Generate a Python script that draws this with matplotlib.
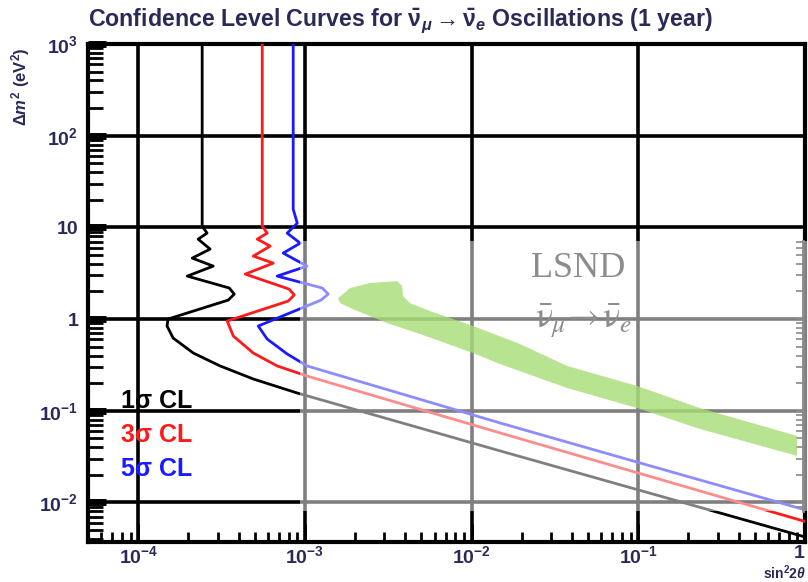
import matplotlib
matplotlib.use("Agg")
import matplotlib.pyplot as plt
from matplotlib.patches import Polygon
from matplotlib.ticker import (LogLocator, FixedLocator, FixedFormatter,
                               NullFormatter, NullLocator)

plt.rcParams["font.family"] = ["Liberation Sans", "DejaVu Sans"]
plt.rcParams["mathtext.fontset"] = "custom"
plt.rcParams["mathtext.rm"] = "Liberation Sans:bold"
plt.rcParams["mathtext.it"] = "Liberation Sans:bold:italic"
plt.rcParams["mathtext.bf"] = "Liberation Sans:bold"

# ---- sensitivity contours (sin^2 2theta, delta m^2 in eV^2) ----
cl1_sin2 = [2.42e-4, 2.42e-4, 2.59e-4, 2.29e-4, 2.70e-4, 2.11e-4, 2.82e-4, 1.97e-4,
            3.52e-4, 3.77e-4, 3.47e-4, 1.51e-4, 1.49e-4, 1.62e-4, 2.14e-4, 3.10e-4,
            4.90e-4, 9.0e-4, 1.48e-2, 1.0]
cl1_dm2 = [1000, 10.3, 8.65, 7.44, 5.79, 4.62, 3.78, 2.94,
           2.18, 1.87, 1.61, 1.0, 0.839, 0.621, 0.426, 0.308,
           0.222, 0.156, 0.0365, 0.0042]

cl3_sin2 = [5.55e-4, 5.55e-4, 5.94e-4, 5.18e-4, 6.19e-4, 4.90e-4, 6.46e-4, 4.39e-4,
            8.05e-4, 8.63e-4, 7.94e-4, 3.42e-4, 3.72e-4, 4.90e-4, 6.82e-4, 1.03e-3,
            1.48e-2, 1.0]
cl3_dm2 = [1000, 10.3, 8.65, 7.44, 6.24, 4.86, 4.07, 3.09,
           2.12, 1.83, 1.57, 0.951, 0.653, 0.426, 0.308, 0.239,
           0.0573, 0.0062]

cl5_sin2 = [8.51e-4, 8.51e-4, 9.0e-4, 7.83e-4, 9.38e-4, 7.41e-4, 1.03e-3, 6.82e-4,
            1.27e-3, 1.38e-3, 1.25e-3, 5.25e-4, 5.94e-4, 7.83e-4, 1.03e-3, 1.48e-2,
            0.102, 1.0]
cl5_dm2 = [1000, 15.8, 11.1, 8.65, 6.73, 5.24, 3.78, 2.94,
           2.18, 1.87, 1.61, 0.839, 0.605, 0.416, 0.308, 0.0736,
           0.027, 0.0083]

# ---- LSND allowed band (outline) ----
lsnd_sin2 = [1.58e-3, 1.87e-3, 2.46e-3, 3.57e-3, 3.83e-3, 3.88e-3, 4.28e-3, 5.64e-3,
             1.02e-2, 1.95e-2, 3.74e-2, 0.0985, 0.234, 0.895,
             0.895, 0.234, 0.0985, 0.0374, 0.0148, 0.0102, 4.91e-3, 3.11e-3,
             1.95e-3, 1.63e-3]
lsnd_dm2 = [1.69, 2.18, 2.47, 2.59, 2.29, 1.78, 1.49, 1.22,
            0.84, 0.534, 0.308, 0.186, 0.107, 0.0531,
            0.0322, 0.0633, 0.107, 0.177, 0.323, 0.426, 0.687, 0.904,
            1.28, 1.49]

curve_labels = ["1σ CL", "3σ CL", "5σ CL"]
curve_colors = ["black", "#ff1a1a", "#1a1aff"]

x_ticks = [1e-4, 1e-3, 1e-2, 1e-1, 1]
x_ticklabels = [r"$10^{-4}$", r"$10^{-3}$", r"$10^{-2}$", r"$10^{-1}$", "1"]
y_ticks = [1e-2, 1e-1, 1, 10, 100, 1000]
y_ticklabels = [r"$10^{-2}$", r"$10^{-1}$", "1", "10", r"$10^{2}$", r"$10^{3}$"]

W, H = 808, 582
fig = plt.figure(figsize=(W / 100, H / 100), dpi=100)


def fx(px):
    return px / W


def fy(py):
    return 1 - py / H


ax = fig.add_axes([fx(88), fy(542), fx(805) - fx(88), fy(44) - fy(542)])
ax.set_xscale("log")
ax.set_yscale("log")
ax.set_xlim(5e-5, 1)
ax.set_ylim(3.7e-3, 1000)

text_col = "#2a2a58"
ax.xaxis.set_major_locator(FixedLocator(x_ticks))
ax.xaxis.set_major_formatter(FixedFormatter(x_ticklabels))
ax.yaxis.set_major_locator(FixedLocator(y_ticks))
ax.yaxis.set_major_formatter(FixedFormatter(y_ticklabels))
ax.xaxis.set_minor_locator(LogLocator(base=10, subs=range(2, 10), numticks=20))
ax.yaxis.set_minor_locator(LogLocator(base=10, subs=range(2, 10), numticks=20))
ax.xaxis.set_minor_formatter(NullFormatter())
ax.yaxis.set_minor_formatter(NullFormatter())

ax.tick_params(axis="both", which="both", direction="in", top=False, right=False,
               colors="black", labelcolor=text_col, labelsize=14)
ax.tick_params(axis="y", which="major", length=13, width=5, pad=7)
ax.tick_params(axis="y", which="minor", length=11, width=2)
ax.tick_params(axis="x", which="major", length=13, width=2, pad=2)
ax.tick_params(axis="x", which="minor", length=7, width=2)
for lab in ax.get_xticklabels() + ax.get_yticklabels():
    lab.set_fontweight("bold")
ax.get_xticklabels()[-1].set_horizontalalignment("right")
for sp in ax.spines.values():
    sp.set_linewidth(3)
    sp.set_color("black")

ax.grid(True, which="major", color="black", linewidth=2.6)
ax.set_axisbelow(True)

ax.plot(cl1_sin2, cl1_dm2, color=curve_colors[0], lw=2.0, zorder=3)
ax.plot(cl3_sin2, cl3_dm2, color=curve_colors[1], lw=2.0, zorder=3)
ax.plot(cl5_sin2, cl5_dm2, color=curve_colors[2], lw=2.0, zorder=3)

for i, (lab, col) in enumerate(zip(curve_labels, curve_colors)):
    fig.text(fx(121), fy(401 + 34 * i), lab, color=col, fontsize=18,
             fontweight="bold", ha="left", va="center")

# LSND panel laid over the lower right of the plot
ov_x0, ov_x1 = 9.4e-4, 1.04
ov_y0, ov_y1 = 0.0081, 7.1
ov = ax.inset_axes([ov_x0, ov_y0, ov_x1 - ov_x0, ov_y1 - ov_y0], transform=ax.transData)
ov.set_xscale("log")
ov.set_yscale("log")
ov.set_xlim(ov_x0, ov_x1)
ov.set_ylim(ov_y0, ov_y1)
ov.set_facecolor((1, 1, 1, 0.5))
for side in ["top", "bottom", "left"]:
    ov.spines[side].set_visible(False)
ov.spines["right"].set_position(("data", 0.975))
ov.spines["right"].set_color("#8a8a8a")
ov.spines["right"].set_linewidth(2)
ov.xaxis.set_major_locator(NullLocator())
ov.xaxis.set_minor_locator(NullLocator())
ov.yaxis.tick_right()
ov.yaxis.set_major_locator(LogLocator(base=10, numticks=10))
ov.yaxis.set_minor_locator(LogLocator(base=10, subs=range(2, 10), numticks=20))
ov.yaxis.set_major_formatter(NullFormatter())
ov.yaxis.set_minor_formatter(NullFormatter())
ov.tick_params(axis="y", which="both", direction="in", colors="#8a8a8a",
               length=5, width=1.2)

ov.add_patch(Polygon(list(zip(lsnd_sin2, lsnd_dm2)), closed=True,
                     facecolor="#a6dc74", edgecolor="none", alpha=0.8, zorder=2))

ov.text(0.0435, 3.55, "LSND", family="Liberation Serif", fontsize=26,
        color="#8c8c8c", ha="center", va="center")
ov.text(0.047, 0.95, r"$\bar{\mathrm{\nu}}_{\mu}\!\rightarrow\!\bar{\mathrm{\nu}}_{e}$",
        fontsize=26, color="#8c8c8c", ha="center", va="center",
        math_fontfamily="stix")

fig.text(fx(88), fy(21),
         r"Confidence Level Curves for $\bar{\mathrm{\nu}}_{\mu}\rightarrow\bar{\mathrm{\nu}}_{e}$ Oscillations (1 year)",
         fontsize=16.7, fontweight="bold", color=text_col, ha="left", va="center")
fig.text(fx(21), fy(47), r"$\Delta m^{2}$ (eV$^{2}$)", rotation=90, fontsize=12,
         fontweight="bold", color=text_col, ha="center", va="top")
fig.text(fx(806), fy(582), r"sin$^{2}$2$\theta$", fontsize=10, fontweight="bold",
         color=text_col, ha="right", va="bottom")

fig.savefig("out.png", dpi=100, facecolor="white")
